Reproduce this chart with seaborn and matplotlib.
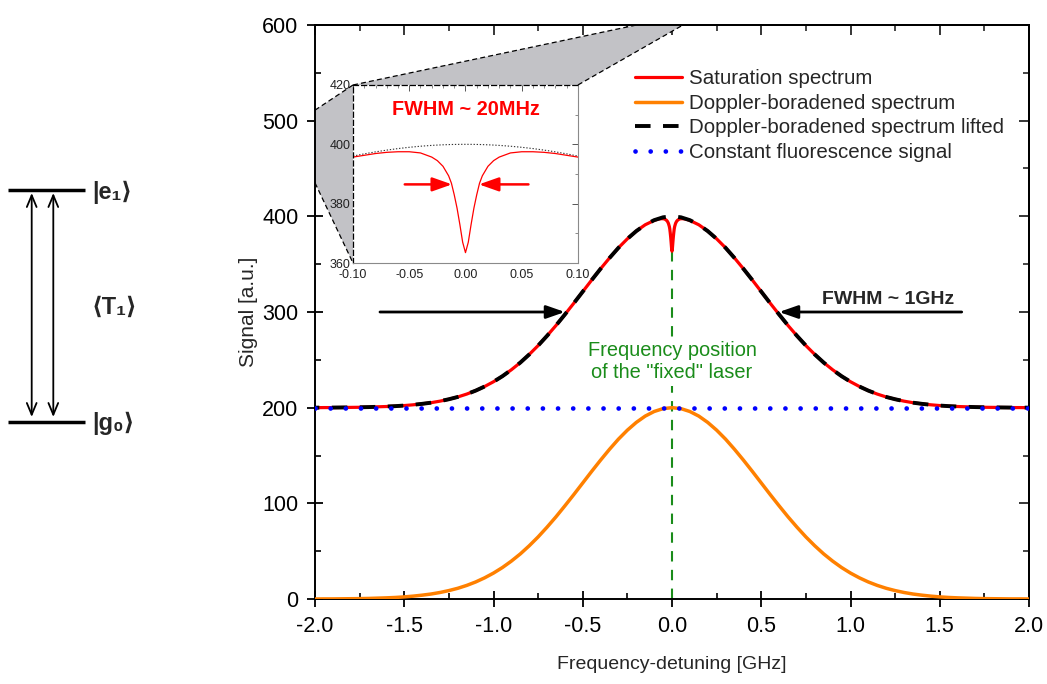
import numpy as np
import pandas as pd
import matplotlib
matplotlib.use("Agg")
import matplotlib.pyplot as plt
import seaborn as sns
from matplotlib.ticker import MultipleLocator, FormatStrFormatter
from matplotlib.patches import Polygon

# ---------------- data ----------------
freq = np.round(np.arange(-2.0, 2.0001, 0.05), 2)          # GHz sampling grid
doppler = [0.0, 0.1, 0.1, 0.2, 0.3, 0.4, 0.6, 0.9, 1.2, 1.6, 2.2, 3.0, 4.0, 5.2, 6.8,
           8.8, 11.2, 14.2, 17.8, 22.1, 27.1, 32.9, 39.6, 47.1, 55.6, 64.9, 75.1, 85.9,
           97.4, 109.2, 121.3, 133.4, 145.2, 156.5, 167.1, 176.5, 184.6, 191.2, 196.0,
           199.0, 200.0, 199.0, 196.0, 191.2, 184.6, 176.5, 167.1, 156.5, 145.2, 133.4,
           121.3, 109.2, 97.4, 85.9, 75.1, 64.9, 55.6, 47.1, 39.6, 32.9, 27.1, 22.1, 17.8,
           14.2, 11.2, 8.8, 6.8, 5.2, 4.0, 3.0, 2.2, 1.6, 1.2, 0.9, 0.6, 0.4, 0.3, 0.2,
           0.1, 0.1, 0.0]
fluorescence = 200.0                                           # constant fluorescence signal

# zoomed region around the fixed laser (inset)
inset_freq = [-0.10, -0.09, -0.08, -0.07, -0.06, -0.05, -0.04, -0.03, -0.025, -0.02,
              -0.015, -0.0125, -0.01, -0.0075, -0.005, -0.0025, 0.0, 0.0025, 0.005,
              0.0075, 0.01, 0.0125, 0.015, 0.02, 0.025, 0.03, 0.04, 0.05, 0.06, 0.07,
              0.08, 0.09, 0.10]
inset_sat = [395.7, 396.3, 396.9, 397.3, 397.5, 397.5, 397.1, 395.7, 394.5, 392.6,
             389.4, 386.9, 383.0, 378.5, 373.0, 367.0, 363.5, 367.0, 373.0, 378.5,
             383.0, 386.9, 389.4, 392.6, 394.5, 395.7, 397.1, 397.5, 397.5, 397.3,
             396.9, 396.3, 395.7]
inset_lifted = [396.04, 396.79, 397.46, 398.05, 398.57, 399.0, 399.36, 399.64, 399.75,
                399.84, 399.91, 399.94, 399.96, 399.98, 399.99, 400.0, 400.0, 400.0,
                399.99, 399.98, 399.96, 399.94, 399.91, 399.84, 399.75, 399.64, 399.36,
                399.0, 398.57, 398.05, 397.46, 396.79, 396.04]

laser_pos = 0.0
fwhm_main_half = 0.6
fwhm_inset_half = 0.012

# ---------------- derived tables ----------------
freq = np.asarray(freq)
doppler = np.asarray(doppler)
lifted = doppler + fluorescence
left_m = freq < -0.1
right_m = freq > 0.1
sat_x = np.concatenate([freq[left_m], inset_freq, freq[right_m]])
sat_y = np.concatenate([lifted[left_m], inset_sat, lifted[right_m]])

# ---------------- style ----------------
sns.set_theme(style="white")
plt.rcParams["font.family"] = ["Liberation Sans", "DejaVu Sans"]
plt.rcParams["axes.unicode_minus"] = False

W, H = 1047, 684
fig = plt.figure(figsize=(W / 100, H / 100), dpi=100)
fig.patch.set_facecolor("white")

# main axes: x -2..2 between px 315..1029, y 0..600 between px 599..25
ax = fig.add_axes([315 / W, (H - 599) / H, 714 / W, 574 / H])

# gray "zoom" projection shapes
gray = "#c2c2c6"
poly_left = Polygon([(-2.0, 511), (-1.787, 537.3), (-1.787, 351.2), (-2.0, 435)],
                    closed=True, facecolor=gray, edgecolor="none", zorder=1)
poly_top = Polygon([(-1.787, 537.3), (-0.527, 537.3), (0.09, 603), (-0.123, 603)],
                   closed=True, facecolor=gray, edgecolor="none", zorder=1)
ax.add_patch(poly_left)
ax.add_patch(poly_top)
for (xa, ya), (xb, yb) in [((-2.0, 511), (-1.787, 537.3)), ((-2.0, 435), (-1.787, 351.2)),
                           ((-1.787, 537.3), (-0.123, 603)), ((-0.527, 537.3), (0.09, 603))]:
    ax.plot([xa, xb], [ya, yb], color="black", lw=0.9, ls=(0, (4, 2.5)), zorder=1.5)

# curves
sns.lineplot(x=sat_x, y=sat_y, ax=ax, color="#ff0000", lw=2.3, sort=False,
             estimator=None, label="Saturation spectrum", zorder=3)
sns.lineplot(x=freq, y=doppler, ax=ax, color="#ff8000", lw=2.5, sort=False,
             estimator=None, label="Doppler-boradened spectrum", zorder=3)
sns.lineplot(x=freq, y=lifted, ax=ax, color="black", lw=2.8, sort=False,
             estimator=None, label="Doppler-boradened spectrum lifted", zorder=4)
lifted_line = ax.lines[-1]
lifted_line.set_dashes((4, 3.2))
sns.lineplot(x=freq, y=np.full(len(freq), fluorescence), ax=ax, color="#0000ff", lw=3.4,
             sort=False, estimator=None, label="Constant fluorescence signal", zorder=5)
ax.lines[-1].set_dashes((0.01, 3.2))
ax.lines[-1].set_dash_capstyle("round")

# laser position line and label
ax.vlines(laser_pos, 0, min(inset_sat), color="#1a8c1a", lw=1.5,
          linestyles=(0, (5, 4)), zorder=2)
ax.text(laser_pos, 248, 'Frequency position\nof the "fixed" laser', color="#1a8c1a",
        ha="center", va="center", fontsize=14.4, linespacing=1.2, zorder=6,
        bbox=dict(facecolor="white", edgecolor="none", pad=3))

# FWHM arrows (main)
arrow_kw = dict(arrowstyle="-|>,head_length=0.8,head_width=0.28", color="black",
                lw=2.0, mutation_scale=14, shrinkA=0, shrinkB=0)
ax.annotate("", xy=(-fwhm_main_half, fluorescence + 100), xytext=(-1.636, fluorescence + 100),
            arrowprops=arrow_kw, zorder=6)
ax.annotate("", xy=(fwhm_main_half, fluorescence + 100), xytext=(1.623, fluorescence + 100),
            arrowprops=arrow_kw, zorder=6)
ax.text(1.21, 313, "FWHM ~ 1GHz", ha="center", va="center", fontsize=14,
        fontweight="bold", zorder=6)

ax.set_xlim(-2.0, 2.0)
ax.set_ylim(0, 600)
ax.xaxis.set_major_locator(MultipleLocator(0.5))
ax.xaxis.set_minor_locator(MultipleLocator(0.25))
ax.xaxis.set_major_formatter(FormatStrFormatter("%.1f"))
ax.yaxis.set_major_locator(MultipleLocator(100))
ax.yaxis.set_minor_locator(MultipleLocator(50))
ax.tick_params(which="major", direction="inout", length=12, width=1.3, labelsize=15.5,
               colors="black")
ax.tick_params(axis="x", which="major", pad=6)
ax.tick_params(axis="y", which="major", pad=6)
ax.tick_params(which="minor", direction="in", length=4.5, width=1.2, colors="black")
ax.tick_params(axis="x", which="both", bottom=True, top=False)
ax.tick_params(axis="y", which="both", left=True, right=False)
for s in ax.spines.values():
    s.set_color("black")
    s.set_linewidth(1.4)
ax.set_xlabel("Frequency-detuning [GHz]", fontsize=14, labelpad=14)
ax.set_ylabel("Signal [a.u.]", fontsize=15, labelpad=3)

secx = ax.secondary_xaxis("top")
secx.xaxis.set_major_locator(MultipleLocator(0.5))
secx.xaxis.set_minor_locator(MultipleLocator(0.25))
secx.tick_params(which="major", direction="in", length=7.5, width=1.3, labeltop=False)
secx.tick_params(which="minor", direction="in", length=4, width=1.2)
secy = ax.secondary_yaxis("right")
secy.yaxis.set_major_locator(MultipleLocator(100))
secy.yaxis.set_minor_locator(MultipleLocator(50))
secy.tick_params(which="major", direction="in", length=7.5, width=1.3, labelright=False)
secy.tick_params(which="minor", direction="in", length=4, width=1.2)
for sa in (secx, secy):
    for s in sa.spines.values():
        s.set_linewidth(1.4)
        s.set_color("black")

leg = ax.legend(loc="upper left", bbox_to_anchor=(0.436, 0.937), frameon=False,
                fontsize=14.8, handlelength=2.3, handletextpad=0.35, labelspacing=0.27,
                borderaxespad=0)

# ---------------- inset ----------------
axins = ax.inset_axes([-1.787, 351.2, 1.26, 186.1], transform=ax.transData, zorder=7)
axins.set_facecolor("white")
sns.lineplot(x=inset_freq, y=inset_lifted, ax=axins, color="#333333", lw=0.8,
             sort=False, estimator=None, legend=False)
axins.lines[-1].set_dashes((1.2, 1.6))
sns.lineplot(x=inset_freq, y=inset_sat, ax=axins, color="#ff0000", lw=0.9,
             sort=False, estimator=None, legend=False)
axins.set_xlim(-0.1, 0.1)
axins.set_ylim(360, 420)
axins.xaxis.set_major_locator(MultipleLocator(0.05))
axins.xaxis.set_minor_locator(MultipleLocator(0.01))
axins.xaxis.set_major_formatter(FormatStrFormatter("%.2f"))
axins.yaxis.set_major_locator(MultipleLocator(20))
axins.yaxis.set_minor_locator(MultipleLocator(10))
axins.tick_params(which="major", direction="in", length=4, width=0.7, labelsize=9,
                  colors="#555555", labelcolor="#222222", top=True, right=True)
axins.tick_params(axis="x", which="major", pad=4)
axins.tick_params(axis="y", which="major", pad=2)
axins.tick_params(which="minor", direction="in", length=2.2, width=0.6, colors="#777777",
                  top=True, right=True)
axins.set_xlabel("")
axins.set_ylabel("")
for name, s in axins.spines.items():
    s.set_linewidth(0.8)
    s.set_color("#8a8a8a")
for name in ("top", "left"):
    axins.spines[name].set_color("black")
    axins.spines[name].set_linestyle((0, (4, 2.5)))
    axins.spines[name].set_linewidth(0.9)
axins.text(0.0, 411.6, "FWHM ~ 20MHz", color="#ff0000", ha="center", va="center",
           fontsize=14.3, fontweight="bold")
red_kw = dict(arrowstyle="-|>,head_length=0.85,head_width=0.3", color="#ff0000",
              lw=1.8, mutation_scale=14, shrinkA=0, shrinkB=0)
axins.annotate("", xy=(-fwhm_inset_half, 386.5), xytext=(-0.054, 386.5), arrowprops=red_kw)
axins.annotate("", xy=(fwhm_inset_half, 386.5), xytext=(0.056, 386.5), arrowprops=red_kw)

# ---------------- energy level diagram (left) ----------------
diag = fig.add_axes([0, 0, 1, 1], zorder=-1)
diag.set_xlim(0, W)
diag.set_ylim(H, 0)
diag.axis("off")
diag.plot([8, 85], [190, 190], color="black", lw=2.5, solid_capstyle="butt")
diag.plot([8, 85], [421.5, 421.5], color="black", lw=2.5, solid_capstyle="butt")
for xa in (31.7, 53.3):
    diag.annotate("", xy=(xa, 193), xytext=(xa, 417),
                  arrowprops=dict(arrowstyle="<->,head_length=0.6,head_width=0.25",
                                  color="black", lw=1.3, mutation_scale=14,
                                  shrinkA=0, shrinkB=0))
lvl_font = dict(fontsize=17, fontweight="bold", va="center", ha="left",
                family=["Liberation Sans", "DejaVu Sans"])
diag.text(92, 192, "|e\u2081\u27e9", **lvl_font)
diag.text(92, 307, "\u27e8T\u2081\u27e9", **lvl_font)
diag.text(92, 423, "|g\u2080\u27e9", **lvl_font)

# put a dash gap of the lifted curve at the laser position (as in the reference)
fig.canvas.draw()
pts = ax.transData.transform(np.column_stack([freq, lifted]))
seg = np.hypot(np.diff(pts[:, 0]), np.diff(pts[:, 1]))
cum = np.concatenate([[0], np.cumsum(seg)])
L0_pt = np.interp(laser_pos, freq, cum) * 72 / fig.dpi
lw_l = lifted_line.get_linewidth()
on_pt, off_pt = 4 * lw_l, 3.2 * lw_l
period = on_pt + off_pt
offset_pt = (on_pt + off_pt / 2 - L0_pt) % period
lifted_line.set_linestyle((offset_pt / lw_l, (4, 3.2)))

fig.savefig("out.png", dpi=100, facecolor="white")
